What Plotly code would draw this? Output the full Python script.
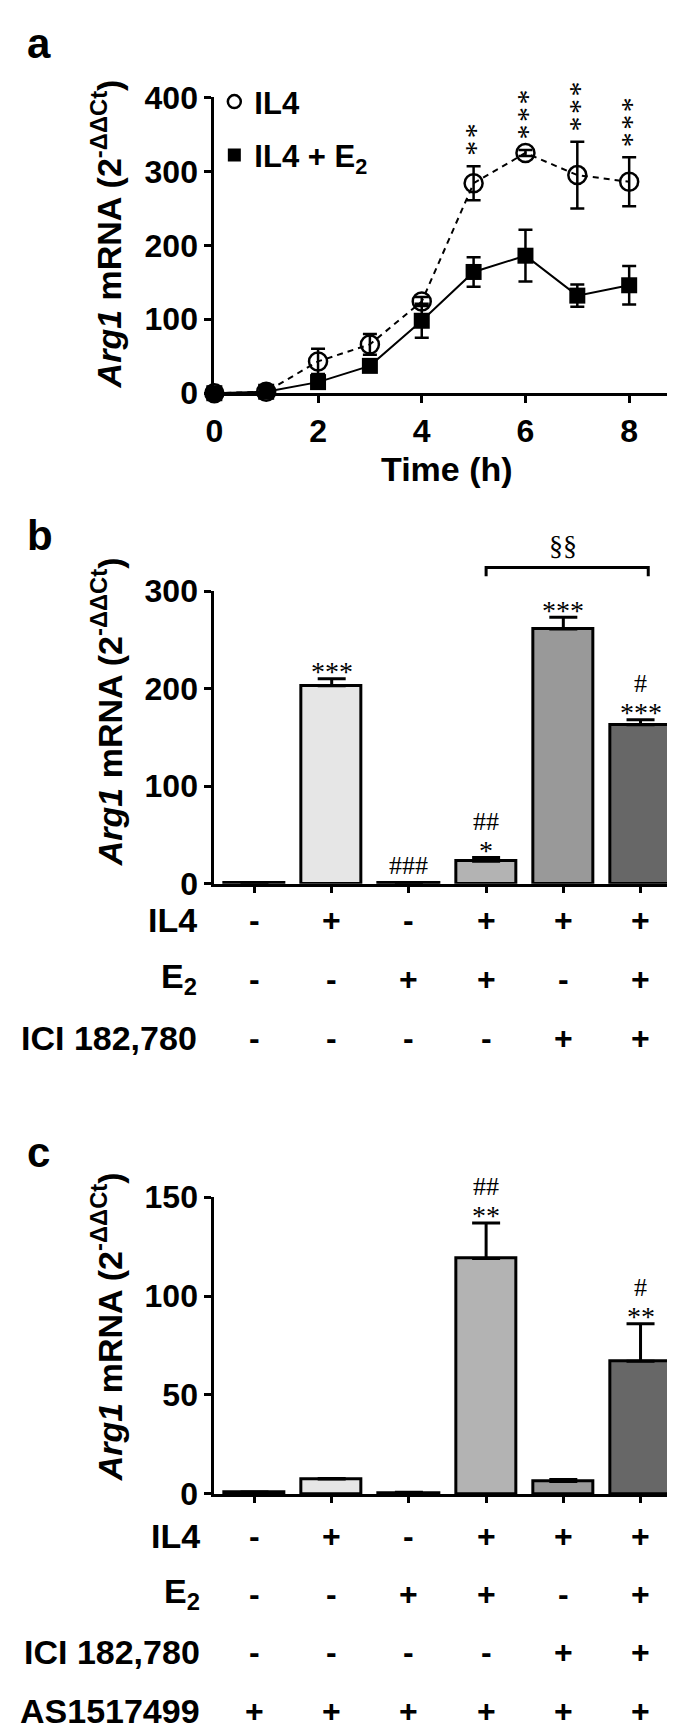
import plotly.graph_objects as go

# panel a: time course
time_h = [0, 1, 2, 3, 4, 5, 6, 7, 8]
il4_mean = [0, 2, 43, 66, 124, 284, 325, 295, 286]
il4_sem = [1, 2, 17, 14, 6, 23, 4, 45, 33]
il4_e2_mean = [0, 2, 15, 37, 98, 164, 186, 132, 146]
il4_e2_sem = [1, 1, 6, 5, 23, 20, 35, 15, 26]
stars_a = ["", "", "", "", "", "**", "***", "***", "***"]

# panel b
groups = [0, 1, 2, 3, 4, 5]
b_mean = [1, 203, 1, 23, 261, 163]
b_sem = [0.3, 7, 0.3, 4, 12, 5]
b_stars = ["", "***", "", "*", "***", "***"]
b_hash = ["", "", "###", "##", "", "#"]
b_il4 = ["-", "+", "-", "+", "+", "+"]
b_e2 = ["-", "-", "+", "+", "-", "+"]
b_ici = ["-", "-", "-", "-", "+", "+"]

# panel c
c_mean = [0.8, 7.5, 0.6, 119, 6.3, 67]
c_sem = [0.2, 0.3, 0.2, 18, 1.0, 19]
c_stars = ["", "", "", "**", "", "**"]
c_hash = ["", "", "", "##", "", "#"]
c_il4 = ["-", "+", "-", "+", "+", "+"]
c_e2 = ["-", "-", "+", "+", "-", "+"]
c_ici = ["-", "-", "-", "-", "+", "+"]
c_as = ["+", "+", "+", "+", "+", "+"]

bar_colors = ["#ffffff", "#e6e6e6", "#555555", "#b3b3b3", "#999999", "#676767"]

W, H = 675, 1734


def py(px):
    return 1 - px / H


SANS = "Liberation Sans"
SERIF = "Liberation Serif"
bold = dict(family=SANS, size=32, color="black", weight="bold")

fig = go.Figure()

# ---- panel a
fig.add_trace(go.Scatter(
    x=time_h, y=il4_e2_mean, mode="lines+markers", cliponaxis=False,
    line=dict(color="black", width=2),
    marker=dict(symbol="square", size=16, color="black"),
    error_y=dict(type="data", array=il4_e2_sem, color="black", thickness=2.5, width=7),
    showlegend=False, xaxis="x", yaxis="y"))
fig.add_trace(go.Scatter(
    x=time_h, y=il4_mean, mode="lines+markers", cliponaxis=False,
    line=dict(color="black", width=2, dash="6px,5px"),
    marker=dict(symbol="circle-open", size=18, color="black", line=dict(width=2.5)),
    error_y=dict(type="data", array=il4_sem, color="black", thickness=2.5, width=7),
    showlegend=False, xaxis="x", yaxis="y"))
# legend entries
fig.add_trace(go.Scatter(x=[None], y=[None], mode="markers", name="IL4",
                         legendgroup="a1",
                         marker=dict(symbol="circle-open", size=13, color="black", line=dict(width=2.5))))
fig.add_trace(go.Scatter(x=[None], y=[None], mode="markers", name="IL4 + E<sub>2</sub>",
                         legendgroup="a2",
                         marker=dict(symbol="square", size=13, color="black")))

annotations = []
for t, m, s, st in zip(time_h, il4_mean, il4_sem, stars_a):
    if st:
        annotations.append(dict(x=t, y=m + s, xref="x", yref="y",
                                xanchor="center", yanchor="bottom",
                                text="\u200a".join(st), textangle=90, showarrow=False,
                                yshift=8, xshift=-5,
                                font=dict(family=SERIF, size=30, color="black")))


def bar_panel(xa, ya, means, sems, stars, hashes):
    fig.add_trace(go.Bar(
        x=groups, y=means, width=0.78, xaxis=xa, yaxis=ya, showlegend=False,
        marker=dict(color=bar_colors, line=dict(color="black", width=3)),
        error_y=dict(type="data", array=sems, arrayminus=[0] * len(sems), symmetric=False,
                     color="black", thickness=3, width=14)))
    for g, m, s, st, hs in zip(groups, means, sems, stars, hashes):
        top = m + s
        shift = 7
        if st:
            annotations.append(dict(x=g, y=top, xref=xa, yref=ya,
                                    xanchor="center", yanchor="middle",
                                    text=st, showarrow=False, yshift=shift,
                                    font=dict(family=SERIF, size=28, color="black")))
            shift += 29
        else:
            shift += 10
        if hs:
            annotations.append(dict(x=g, y=top, xref=xa, yref=ya,
                                    xanchor="center", yanchor="middle",
                                    text=hs, showarrow=False, yshift=shift,
                                    font=dict(family=SERIF, size=26, color="black")))


bar_panel("x2", "y2", b_mean, b_sem, b_stars, b_hash)
bar_panel("x3", "y3", c_mean, c_sem, c_stars, c_hash)


def sign_rows(xa, rows, label_right):
    for label, row_px, signs in rows:
        annotations.append(dict(x=label_right / W, y=py(row_px), xref="paper", yref="paper",
                                xanchor="right", yanchor="middle", text=label,
                                showarrow=False, font=dict(bold, size=34)))
        for g, s in zip(groups, signs):
            annotations.append(dict(x=g, y=py(row_px), xref=xa, yref="paper",
                                    xanchor="center", yanchor="middle", text=s,
                                    showarrow=False, font=dict(bold, size=32)))


sign_rows("x2", [("IL4", 913, b_il4), ("E<sub>2</sub>", 973, b_e2),
                 ("ICI 182,780", 1033, b_ici)], 184)
sign_rows("x3", [("IL4", 1542, c_il4), ("E<sub>2</sub>", 1601, c_e2),
                 ("ICI 182,780", 1660, c_ici), ("AS1517499", 1721, c_as)], 188)

# y titles
ytitle = "<i>Arg1</i> mRNA (2<sup>-ΔΔCt</sup>)"
for cy in (212, 700, 1328):
    annotations.append(dict(x=91 / W, y=py(cy), xref="paper", yref="paper",
                            xanchor="center", yanchor="middle",
                            text=ytitle, textangle=-90, showarrow=False,
                            font=dict(bold, size=34)))

annotations.append(dict(x=436 / W, y=py(452), xref="paper", yref="paper", text="Time (h)",
                        xanchor="center", yanchor="middle",
                        showarrow=False, font=dict(bold, size=34)))

# panel letters
for letter, cy in (("a", 18), ("b", 520), ("c", 1150)):
    annotations.append(dict(x=8 / W, y=py(cy), xref="paper", yref="paper",
                            xanchor="left", yanchor="middle",
                            text=letter, showarrow=False, font=dict(bold, size=42)))

# significance bracket in panel b
annotations.append(dict(x=4, y=py(531), xref="x2", yref="paper", text="§§",
                        xanchor="center", yanchor="middle",
                        showarrow=False, font=dict(family=SERIF, size=28, color="black")))
shapes = [dict(type="path", xref="x2", yref="paper",
               path=f"M 3,{py(562)} L 3,{py(553)} L 5.1,{py(553)} L 5.1,{py(562)}",
               line=dict(color="black", width=3))]

axis_style = dict(showline=True, linecolor="black", linewidth=3, ticks="outside",
                  ticklen=7, tickwidth=3, tickcolor="black", showgrid=False,
                  zeroline=False, tickfont=bold)

fig.update_layout(
    width=W, height=H, margin=dict(l=0, r=0, t=0, b=0),
    plot_bgcolor="white", paper_bgcolor="white",
    xaxis=dict(axis_style, domain=[200 / W, 673 / W], range=[0, 9],
               tickvals=[0, 2, 4, 6, 8], anchor="y"),
    yaxis=dict(axis_style, domain=[py(375), py(73)], range=[0, 400],
               tickvals=[0, 100, 200, 300, 400], anchor="x"),
    xaxis2=dict(axis_style, domain=[200 / W, 1], range=[-0.52, 5.55],
                tickvals=groups, showticklabels=False, ticklen=6, anchor="y2"),
    yaxis2=dict(axis_style, domain=[py(876), py(577)], range=[0, 300],
                tickvals=[0, 100, 200, 300], anchor="x2"),
    xaxis3=dict(axis_style, domain=[200 / W, 1], range=[-0.52, 5.55],
                tickvals=groups, showticklabels=False, ticklen=6, anchor="y3"),
    yaxis3=dict(axis_style, domain=[py(1499), py(1196)], range=[0, 150],
                tickvals=[0, 50, 100, 150], anchor="x3"),
    legend=dict(x=200 / W, y=py(50), xanchor="left", yanchor="top",
                font=dict(bold, size=31), bgcolor="rgba(0,0,0,0)",
                tracegroupgap=10, itemwidth=30),
    annotations=annotations,
    shapes=shapes,
    bargap=0,
)

fig.write_html("out.html")
